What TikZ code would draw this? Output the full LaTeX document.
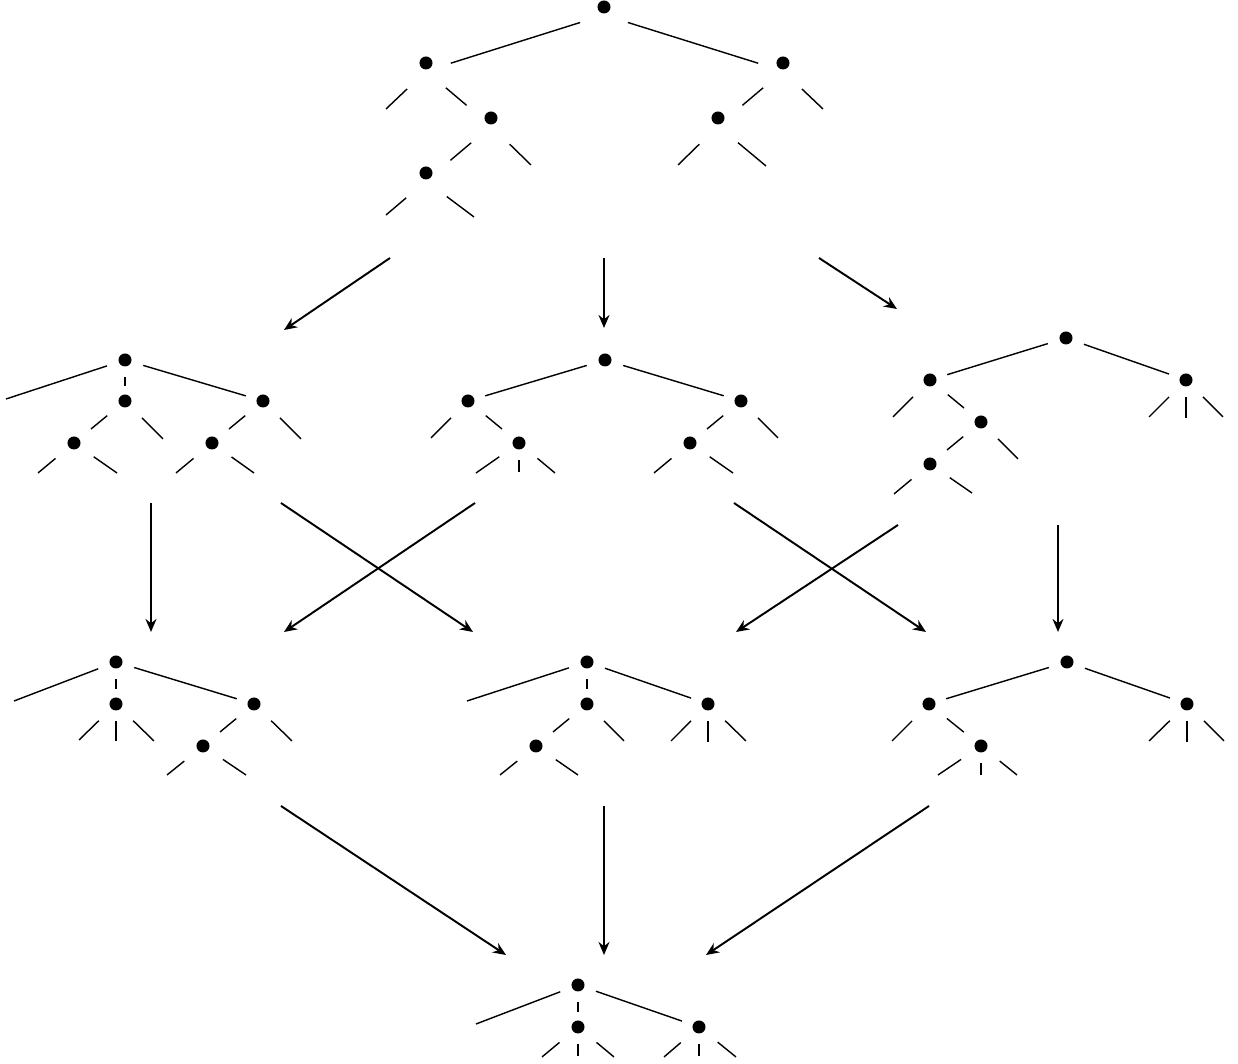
\documentclass[tikz,border=0pt]{standalone}
\usepackage{tikz}
\usetikzlibrary{arrows.meta}

\begin{document}
\begin{tikzpicture}[x=0.01cm,y=-0.01cm]

% --- STYLES ---
\tikzset{
  dot/.style={circle, fill=black, inner sep=0pt, minimum size=0.13cm},
  branch/.style={black, line width=0.4pt, shorten <=0.19cm, shorten >=0.18cm},
  twig/.style={black, line width=0.4pt, shorten <=0.23cm, shorten >=0.22cm},
  leaf/.style={black, line width=0.4pt, shorten <=0.24cm},
  rootleaf/.style={black, line width=0.4pt, shorten <=0.19cm},
  midlink/.style={black, line width=0.85pt, shorten <=0.17cm, shorten >=0.15cm},
  midleaf/.style={black, line width=0.85pt, shorten <=0.17cm},
  % top tree: edges hang a little below the dots
  bigbranch/.style={black, line width=0.4pt, shorten <=0.25cm, shorten >=0.26cm},
  bigtwig/.style={black, line width=0.4pt, shorten <=0.26cm, shorten >=0.32cm},
  bigleaf/.style={black, line width=0.4pt, shorten <=0.26cm},
  move/.style={black, line width=0.55pt, -{Stealth[length=0.13cm, width=0.11cm]}},
}

\useasboundingbox (0,0) rectangle (1238,1064);

% ================= TOP TREE (A) =================
\node[dot] (A0)   at (604,7)   {};
\node[dot] (A1)   at (426,63)  {};
\node[dot] (A2)   at (783,63)  {};
\node[dot] (A11)  at (491,118) {};
\node[dot] (A111) at (426,173) {};
\node[dot] (A21)  at (718,118) {};
\coordinate (A1a)   at (386,109);
\coordinate (A11b)  at (531,165);
\coordinate (A111a) at (386,215);
\coordinate (A111b) at (474,217);
\coordinate (A2b)   at (823,109);
\coordinate (A21a)  at (678,165);
\coordinate (A21b)  at (766,166);

\foreach \p/\c in {A0/A1, A0/A2}
  \draw[bigbranch] ([yshift=-0.08cm]\p.center) -- ([yshift=-0.08cm]\c.center);
\foreach \p/\c in {A1/A11, A11/A111, A2/A21}
  \draw[bigtwig] ([yshift=-0.08cm]\p.center) -- ([yshift=-0.08cm]\c.center);
\foreach \p/\c in {A1/A1a, A11/A11b, A111/A111a, A111/A111b, A2/A2b, A21/A21a, A21/A21b}
  \draw[bigleaf] ([yshift=-0.08cm]\p.center) -- (\c);

% ================= MIDDLE ROW (B, C, D) =================
\node[dot] (B0)  at (125,360) {};
\node[dot] (B1)  at (125,401) {};
\node[dot] (B2)  at (263,401) {};
\node[dot] (B11) at (74,443)  {};
\node[dot] (B21) at (212,443) {};
\coordinate (B0a)  at (6,399);
\coordinate (B1b)  at (163,439);
\coordinate (B2b)  at (301,439);
\coordinate (B11a) at (38,473);
\coordinate (B11b) at (117,473);
\coordinate (B21a) at (176,473);
\coordinate (B21b) at (254,473);

\node[dot] (C0)  at (605,360) {};
\node[dot] (C1)  at (468,401) {};
\node[dot] (C2)  at (741,401) {};
\node[dot] (C11) at (519,443) {};
\node[dot] (C21) at (690,443) {};
\coordinate (C1a)  at (431,438);
\coordinate (C11a) at (476,473);
\coordinate (C11m) at (519,472);
\coordinate (C11b) at (555,473);
\coordinate (C2b)  at (778,438);
\coordinate (C21a) at (654,473);
\coordinate (C21b) at (733,473);

\node[dot] (D0)   at (1066,338) {};
\node[dot] (D1)   at (930,380)  {};
\node[dot] (D2)   at (1186,380) {};
\node[dot] (D11)  at (981,422)  {};
\node[dot] (D111) at (930,464)  {};
\coordinate (D1a)   at (893,417);
\coordinate (D11b)  at (1018,459);
\coordinate (D111a) at (894,494);
\coordinate (D111b) at (972,493);
\coordinate (D2a)   at (1149,417);
\coordinate (D2m)   at (1186,418);
\coordinate (D2b)   at (1223,417);

% ================= THIRD ROW (E, F, G) =================
\node[dot] (E0)  at (116,662) {};
\node[dot] (E1)  at (116,704) {};
\node[dot] (E2)  at (254,704) {};
\node[dot] (E21) at (203,746) {};
\coordinate (E0a)  at (14,701);
\coordinate (E1a)  at (79,740);
\coordinate (E1m)  at (116,741);
\coordinate (E1b)  at (154,741);
\coordinate (E2b)  at (292,741);
\coordinate (E21a) at (167,775);
\coordinate (E21b) at (246,775);

\node[dot] (F0)  at (587,662) {};
\node[dot] (F1)  at (587,704) {};
\node[dot] (F2)  at (708,704) {};
\node[dot] (F11) at (536,746) {};
\coordinate (F0a)  at (467,701);
\coordinate (F1b)  at (624,741);
\coordinate (F11a) at (500,775);
\coordinate (F11b) at (578,775);
\coordinate (F2a)  at (671,741);
\coordinate (F2m)  at (708,742);
\coordinate (F2b)  at (746,741);

\node[dot] (G0)  at (1067,662) {};
\node[dot] (G1)  at (929,704)  {};
\node[dot] (G2)  at (1187,704) {};
\node[dot] (G11) at (981,746)  {};
\coordinate (G1a)  at (892,741);
\coordinate (G11a) at (938,775);
\coordinate (G11m) at (981,775);
\coordinate (G11b) at (1017,775);
\coordinate (G2a)  at (1149,741);
\coordinate (G2m)  at (1187,742);
\coordinate (G2b)  at (1224,741);

% ================= BOTTOM TREE (H) =================
\node[dot] (H0) at (578,985)  {};
\node[dot] (H1) at (578,1027) {};
\node[dot] (H2) at (699,1027) {};
\coordinate (H0a) at (476,1024);
\coordinate (H1a) at (542,1057);
\coordinate (H1m) at (578,1056);
\coordinate (H1b) at (614,1057);
\coordinate (H2a) at (664,1057);
\coordinate (H2m) at (699,1056);
\coordinate (H2b) at (736,1057);

% ================= TREE EDGES =================
\foreach \p/\c in {B0/B2, C0/C1, C0/C2, D0/D1, D0/D2, E0/E2, F0/F2, G0/G1, G0/G2, H0/H2}
  \draw[branch] (\p.center) -- (\c.center);

\foreach \p/\c in {B1/B11, B2/B21, C1/C11, C2/C21, D1/D11, D11/D111, E2/E21, F1/F11, G1/G11}
  \draw[twig] (\p.center) -- (\c.center);

\foreach \p/\c in {B0/B0a, E0/E0a, F0/F0a, H0/H0a}
  \draw[rootleaf] (\p.center) -- (\c);

\foreach \p/\c in {B1/B1b, B2/B2b, B11/B11a, B11/B11b, B21/B21a, B21/B21b,
                   C1/C1a, C11/C11a, C11/C11b, C2/C2b, C21/C21a, C21/C21b,
                   D1/D1a, D11/D11b, D111/D111a, D111/D111b, D2/D2a, D2/D2b,
                   E1/E1a, E1/E1b, E2/E2b, E21/E21a, E21/E21b,
                   F1/F1b, F11/F11a, F11/F11b, F2/F2a, F2/F2b,
                   G1/G1a, G11/G11a, G11/G11b, G2/G2a, G2/G2b,
                   H1/H1a, H1/H1b, H2/H2a, H2/H2b}
  \draw[leaf] (\p.center) -- (\c);

\foreach \p/\c in {B0/B1, E0/E1, F0/F1, H0/H1}
  \draw[midlink] (\p.center) -- (\c.center);

\foreach \p/\c in {C11/C11m, D2/D2m, E1/E1m, F2/F2m, G11/G11m, G2/G2m, H1/H1m, H2/H2m}
  \draw[midleaf] (\p.center) -- (\c);

% ================= ARROWS BETWEEN TREES =================
\coordinate (oAB) at (390,258);  \coordinate (iAB) at (284,330);
\coordinate (oAC) at (604,258);  \coordinate (iAC) at (604,328);
\coordinate (oAD) at (819,258);  \coordinate (iAD) at (897,309);
\coordinate (oBE) at (151,503);  \coordinate (iBE) at (151,632);
\coordinate (oBF) at (281,503);  \coordinate (iBF) at (473,632);
\coordinate (oCE) at (475,503);  \coordinate (iCE) at (284,632);
\coordinate (oCG) at (734,503);  \coordinate (iCG) at (926,632);
\coordinate (oDF) at (898,525);  \coordinate (iDF) at (736,632);
\coordinate (oDG) at (1058,525); \coordinate (iDG) at (1058,632);
\coordinate (oEH) at (281,806);  \coordinate (iEH) at (506,955);
\coordinate (oFH) at (604,806);  \coordinate (iFH) at (604,955);
\coordinate (oGH) at (929,806);  \coordinate (iGH) at (706,955);

\foreach \e in {AB, AC, AD, BE, BF, CE, CG, DF, DG, EH, FH, GH}
  \draw[move] (o\e) -- (i\e);

\end{tikzpicture}
\end{document}
